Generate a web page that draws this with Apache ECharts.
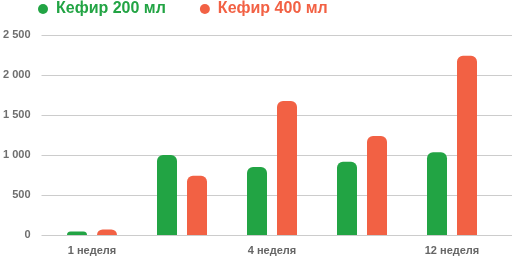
<!DOCTYPE html>
<html><head><meta charset="utf-8">
<script src="https://cdn.jsdelivr.net/npm/echarts@6/dist/echarts.min.js"></script>
<style>html,body{margin:0;padding:0;background:#fff}#c{width:520px;height:259px}</style>
</head><body><div id="c"></div>
<script>
var categories = ['1 неделя', '2 неделя', '4 неделя', '8 неделя', '12 неделя'];
var seriesNames = ['Кефир 200 мл', 'Кефир 400 мл'];
var kefir200 = [45, 1000, 850, 915, 1035];
var kefir400 = [70, 740, 1675, 1237, 2240];
var yTicks = [0, 500, 1000, 1500, 2000, 2500];
var colors = ['#22a444', '#f26144'];

var chart = echarts.init(document.getElementById('c'), null, {renderer: 'canvas'});
var fmt = function (v) { return String(v).replace(/\B(?=(\d{3})+(?!\d))/g, ' '); };
chart.setOption({
  animation: false,
  color: colors,
  legend: {
    left: 38, top: 1, padding: 0, itemWidth: 10, itemHeight: 10, itemGap: 34, icon: 'circle',
    textStyle: {fontFamily: 'Liberation Sans', fontSize: 16, fontWeight: 'bold', padding: [0, 0, 0, 3]},
    data: seriesNames.map(function (n, i) { return {name: n, textStyle: {color: colors[i]}}; })
  },
  grid: [
    {left: 47, right: 23, top: 35, bottom: 24},
    {left: 37, right: 8, top: 35, bottom: 24}
  ],
  xAxis: [
    {type: 'category', gridIndex: 0, data: categories, boundaryGap: true,
     axisLine: {show: false}, axisTick: {show: false},
     axisLabel: {interval: 1, margin: 10, color: '#666', fontFamily: 'Liberation Sans', fontSize: 11, fontWeight: 'bold'}},
    {type: 'value', gridIndex: 1, min: 0, max: 1, show: false}
  ],
  yAxis: [
    {type: 'value', gridIndex: 0, min: yTicks[0], max: yTicks[yTicks.length - 1], interval: 500, show: false},
    {type: 'value', gridIndex: 1, min: yTicks[0], max: yTicks[yTicks.length - 1], interval: 500,
     axisLine: {show: false}, axisTick: {show: false},
     axisLabel: {margin: 11, color: '#6e6e6e', fontFamily: 'Liberation Sans', fontSize: 11, fontWeight: 'bold', formatter: fmt},
     splitLine: {lineStyle: {color: '#cccccc', width: 1}}}
  ],
  series: [
    {name: seriesNames[0], type: 'bar', xAxisIndex: 0, yAxisIndex: 0, data: kefir200, barWidth: 20, barGap: '50%',
     itemStyle: {borderRadius: [6, 6, 0, 0]}},
    {name: seriesNames[1], type: 'bar', xAxisIndex: 0, yAxisIndex: 0, data: kefir400, barWidth: 20, barGap: '50%',
     itemStyle: {borderRadius: [6, 6, 0, 0]}}
  ]
});
</script></body></html>
